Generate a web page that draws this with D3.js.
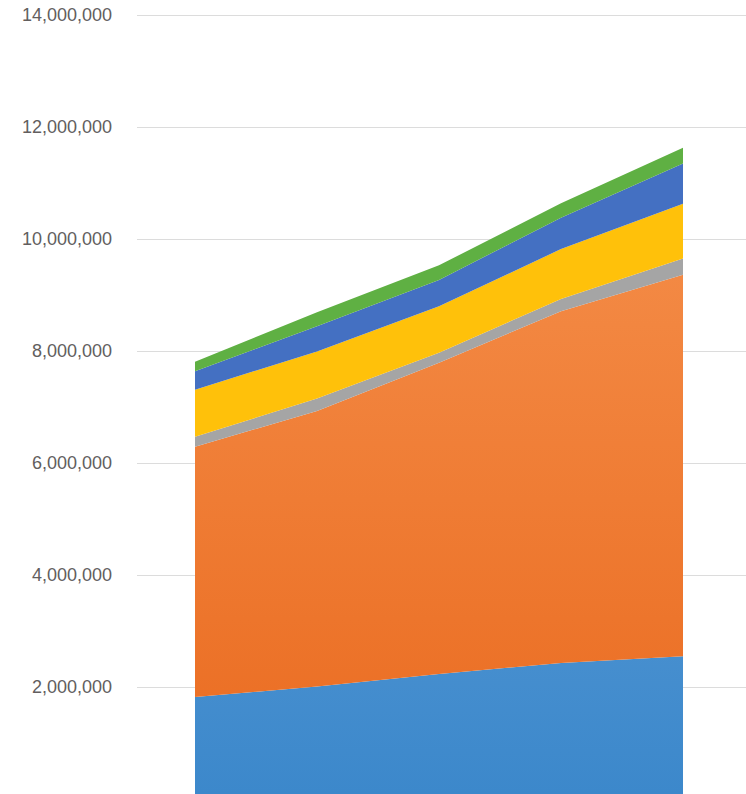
<!DOCTYPE html>
<html>
  <head>
    <title>Stacked area</title>
    <script src="https://d3js.org/d3.v7.min.js"></script>
    <style>
      body { margin: 0; background: #fff; }
      .tick text { font-family: "Liberation Sans", Arial, sans-serif; font-size: 18px; fill: #625e5e; }
    </style>
  </head>
  <body>
    <script>
      var width = 746;
      var height = 794;
      var margin = {top: 15, left: 137, right: 0, bottom: -5};

      // data
      var periods = ["P1", "P2", "P3", "P4", "P5"];
      var seriesNames = ["s1", "s2", "s3", "s4", "s5", "s6"];
      var s1 = [1820000, 2010000, 2230000, 2430000, 2550000];
      var s2 = [4470000, 4920000, 5560000, 6280000, 6810000];
      var s3 = [180000, 220000, 180000, 220000, 290000];
      var s4 = [840000, 840000, 830000, 890000, 980000];
      var s5 = [330000, 450000, 470000, 560000, 720000];
      var s6 = [170000, 250000, 260000, 260000, 280000];
      // the 0 tick sits below the bottom edge of the picture
      var yTicks = [2000000, 4000000, 6000000, 8000000, 10000000, 12000000, 14000000];

      var colors = ["url(#gBlue)", "url(#gOrange)", "#a5a5a5", "#ffc10a", "#4470c2", "#5fb043"];

      var rows = periods.map(function(p, i) {
        return {p: p, s1: s1[i], s2: s2[i], s3: s3[i], s4: s4[i], s5: s5[i], s6: s6[i]};
      });

      var svg = d3.select("body")
        .append("svg")
        .attr("width", width)
        .attr("height", height);

      var defs = svg.append("defs");
      function grad(id, top, bottom) {
        var g = defs.append("linearGradient")
          .attr("id", id)
          .attr("gradientUnits", "userSpaceOnUse")
          .attr("x1", 0).attr("y1", 150).attr("x2", 0).attr("y2", 794);
        g.append("stop").attr("offset", "0%").attr("stop-color", top);
        g.append("stop").attr("offset", "100%").attr("stop-color", bottom);
      }
      grad("gBlue", "#6aa6dc", "#3c88cb");
      grad("gOrange", "#f5904c", "#ea6b20");

      var xScale = d3.scalePoint()
        .domain(periods)
        .range([195, 683]);

      var yScale = d3.scaleLinear()
        .domain([0, 14000000])
        .range([799, margin.top]);

      var yAxis = svg.append("g")
        .attr("transform", "translate(" + margin.left + ",0)")
        .call(d3.axisLeft(yScale)
          .tickValues(yTicks)
          .tickSize(-(width - margin.left))
          .tickPadding(25)
          .tickFormat(d3.format(",")));
      yAxis.select(".domain").remove();
      yAxis.selectAll(".tick line").attr("stroke", "#dcdcdc");

      var stack = d3.stack().keys(seriesNames);
      var layers = stack(rows);

      var area = d3.area()
        .x(function(d) { return xScale(d.data.p); })
        .y0(function(d) { return yScale(d[0]); })
        .y1(function(d) { return yScale(d[1]); });

      svg.selectAll("path.layer")
        .data(layers)
        .enter()
        .append("path")
          .attr("class", "layer")
          .attr("d", area)
          .attr("fill", function(d, i) { return colors[i]; });
    </script>
  </body>
</html>
